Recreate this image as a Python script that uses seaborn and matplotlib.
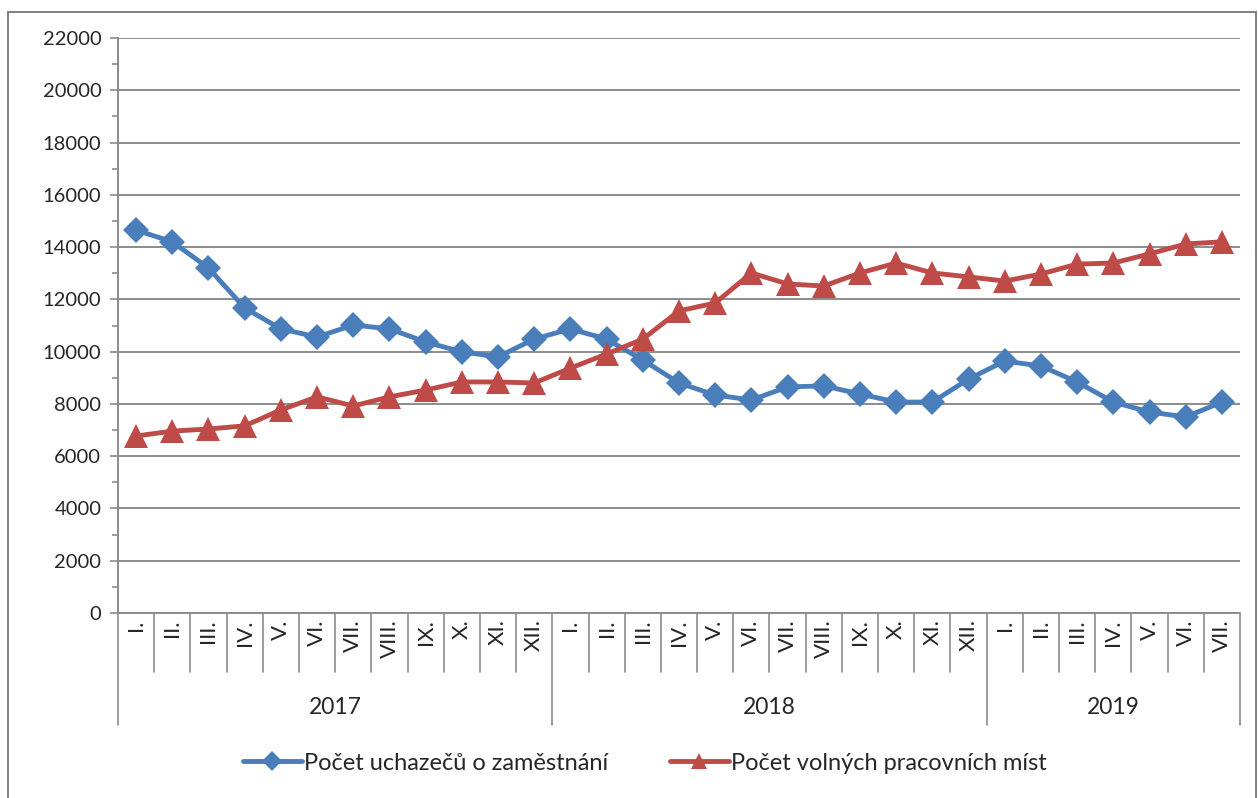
import matplotlib
matplotlib.use("Agg")
import matplotlib.pyplot as plt
import matplotlib.patches as mpatches
from matplotlib.lines import Line2D
import seaborn as sns
import pandas as pd
import numpy as np

years = ["2017", "2018", "2019"]
year_lengths = [12, 12, 7]
months = ["I.", "II.", "III.", "IV.", "V.", "VI.", "VII.", "VIII.", "IX.", "X.", "XI.", "XII.",
          "I.", "II.", "III.", "IV.", "V.", "VI.", "VII.", "VIII.", "IX.", "X.", "XI.", "XII.",
          "I.", "II.", "III.", "IV.", "V.", "VI.", "VII."]
uchazeci = [14650, 14200, 13200, 11670, 10870, 10560, 11020, 10870, 10370, 9990, 9800, 10480,
            10870, 10480, 9680, 8800, 8340, 8150, 8650, 8690, 8380, 8070, 8070, 8950,
            9640, 9450, 8840, 8070, 7690, 7500, 8070]
volna_mista = [6770, 6960, 7040, 7160, 7770, 8270, 7920, 8270, 8530, 8840, 8840, 8800,
               9370, 9910, 10480, 11560, 11860, 13010, 12590, 12510, 13010, 13390, 13010, 12860,
               12700, 12970, 13350, 13390, 13740, 14120, 14200]
series_names = ["Počet uchazečů o zaměstnání", "Počet volných pracovních míst"]

sns.set_theme(style="white")
plt.rcParams['font.family'] = ['Lato', 'DejaVu Sans']

n = len(months)
idx = list(range(n))
df1 = pd.DataFrame({"idx": idx, "value": uchazeci})
df2 = pd.DataFrame({"idx": idx, "value": volna_mista})

fig = plt.figure(figsize=(12.58, 7.98), dpi=100)
ax = fig.add_axes([118/1258, 1-613/798, (1240-118)/1258, (613-38)/798])

blue = "#4A7EBB"
red = "#BE4B48"
sns.lineplot(data=df1, x="idx", y="value", color=blue, marker="D", markersize=13.5,
             markeredgewidth=0, linewidth=3.5, ax=ax)
sns.lineplot(data=df2, x="idx", y="value", color=red, marker="^", markersize=17,
             markeredgewidth=0, linewidth=3.5, ax=ax)

grid_c = "#8C8C8C"
ax.set_xlim(-0.5, n - 0.5)
ax.set_ylim(0, 22000)
ax.set_yticks(np.arange(0, 22001, 2000))
ax.set_yticks(np.arange(1000, 22000, 2000), minor=True)
ax.yaxis.grid(True, which="major", color=grid_c, linewidth=1.4)
ax.set_axisbelow(True)
ax.tick_params(axis="y", which="major", length=6, color=grid_c, width=1.2, labelsize=14.5, pad=6, left=True)
ax.tick_params(axis="y", which="minor", length=4, color=grid_c, width=1.2, left=True)
ax.set_xticks([])
ax.set_xlabel("")
ax.set_ylabel("")
for s in ["top", "right", "bottom"]:
    ax.spines[s].set_visible(False)
ax.spines["left"].set_color(grid_c)
ax.spines["left"].set_linewidth(1.4)

tr = ax.get_xaxis_transform()
ax.plot([-0.5, n - 0.5], [0, 0], transform=tr, color=grid_c, lw=1.4, clip_on=False)
year_bounds = np.cumsum([0] + year_lengths) - 0.5
for i in range(n + 1):
    xb = i - 0.5
    depth = -0.195 if xb in year_bounds else -0.1026
    ax.plot([xb, xb], [0, depth], transform=tr, color=grid_c, lw=1.2, clip_on=False)
for i, m in enumerate(months):
    ax.text(i, -0.011, m, transform=tr, rotation=90, ha="center", va="top", fontsize=16)
start = 0
for y, L in zip(years, year_lengths):
    ax.text(start + (L - 1) / 2, -0.165, y, transform=tr, ha="center", va="center", fontsize=16.5)
    start += L

handles = [Line2D([], [], color=blue, lw=3.5, marker="D", markersize=10, markeredgewidth=0),
           Line2D([], [], color=red, lw=3.5, marker="^", markersize=12, markeredgewidth=0)]
fig.legend(handles, series_names, loc="center", bbox_to_anchor=(645/1258, 1-763/798), ncol=2,
           frameon=False, fontsize=17, handlelength=2.5, columnspacing=2.6, handletextpad=0.1)

fig.patches.append(mpatches.Rectangle((8/1258, -0.01), (1256-8)/1258, (798-12)/798 + 0.01,
                                      transform=fig.transFigure, fill=False,
                                      edgecolor="#7F7F7F", lw=1.4))
fig.savefig("out.png", dpi=100)
